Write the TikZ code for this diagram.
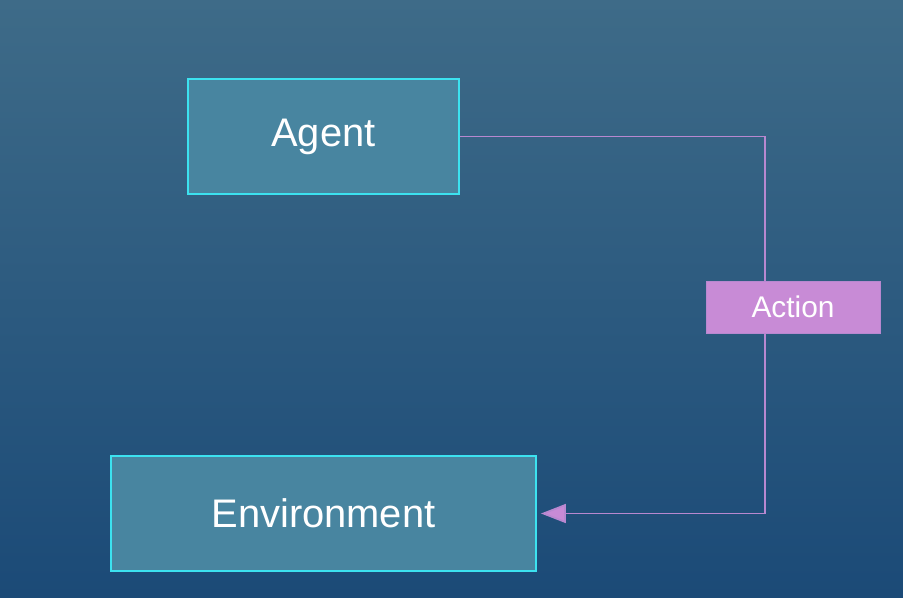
\documentclass[tikz,border=0pt]{standalone}
\usepackage{fontspec}
\setmainfont{Liberation Sans}
\usetikzlibrary{arrows.meta}

\definecolor{bgtop}{RGB}{62,107,136}
\definecolor{bgbot}{RGB}{27,74,119}
\definecolor{boxfill}{RGB}{72,133,160}
\definecolor{boxline}{RGB}{60,226,240}
\definecolor{actfill}{RGB}{200,139,214}
\definecolor{actline}{RGB}{184,136,208}

\begin{document}
\begin{tikzpicture}[x=0.02cm,y=-0.02cm,
	block/.style={draw=boxline, line width=1.1pt, fill=boxfill, text=white, font=\fontsize{22.7}{26}\selectfont, minimum height=2.3cm, inner sep=0pt},
	label box/.style={fill=actfill, draw=actline, line width=0.4pt, text=white, font=\fontsize{17}{20}\selectfont, minimum width=3.48cm, minimum height=1.04cm, inner sep=0pt},
	pile/.style={draw=actline, line width=1pt, shorten >=0.08cm, -{Triangle[length=0.5cm,width=0.38cm,fill=actfill]}}]

	% Background
	\shade[top color=bgtop, bottom color=bgbot] (0,0) rectangle (903,598);
	\useasboundingbox (0,0) rectangle (903,598);

	% Boxes
	\node[block, minimum width=5.42cm] (agent) at (323.5,136.5) {Agent};
	\node[block, minimum width=8.5cm] (env) at (323.5,513.5) {Environment};
	\coordinate (bend) at (765,0);

	% Loop
	\draw[pile] (agent.east) -- (agent.east -| bend) -- (env.east -| bend) -- (env.east);

	\node[label box] (action) at (793,307) {Action};

\end{tikzpicture}
\end{document}
